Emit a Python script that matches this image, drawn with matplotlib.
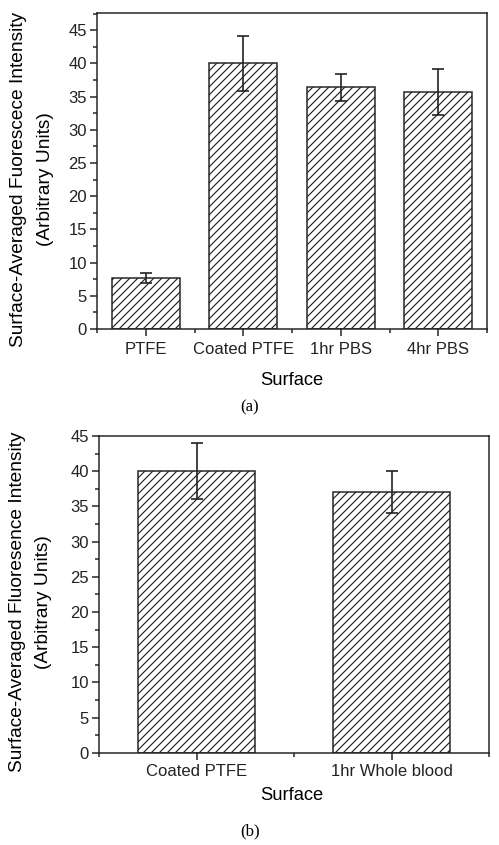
import numpy as np
import matplotlib
matplotlib.use("Agg")
import matplotlib.pyplot as plt
from matplotlib.ticker import MultipleLocator

# panel (a) data
surfaces_a = ['PTFE', 'Coated PTFE', '1hr PBS', '4hr PBS']
intensity_a = [7.7, 40.0, 36.4, 35.7]
error_a = [0.75, 4.1, 2.0, 3.5]

# panel (b) data
surfaces_b = ['Coated PTFE', '1hr Whole blood']
intensity_b = [40.0, 37.0]
error_b = [4.0, 3.0]

plt.rcParams['font.family'] = ['Liberation Sans', 'DejaVu Sans']
plt.rcParams['hatch.linewidth'] = 0.7
plt.rcParams['hatch.color'] = '#333333'

W, H, DPI = 499, 845, 120
fig = plt.figure(figsize=(W / DPI, H / DPI), dpi=DPI)


def px(x0, y0, x1, y1):
    # pixel box -> figure fraction
    return [x0 / W, 1 - y1 / H, (x1 - x0) / W, (y1 - y0) / H]


def draw_panel(ax, labels, vals, errs, width, ymax, xpad):
    x = np.arange(1, len(labels) + 1)
    ax.bar(x, vals, width=width, color='white', edgecolor='#222222',
           linewidth=0.9, hatch='/////', zorder=2)
    ax.errorbar(x, vals, yerr=errs, fmt='none', ecolor='#222222',
                elinewidth=1.0, capsize=3.5, capthick=1.0, zorder=3)
    ax.set_xlim(0.5, len(labels) + 0.5)
    ax.set_ylim(0, ymax)
    ax.set_xticks(x)
    ax.set_xticklabels(labels, fontsize=10)
    ax.xaxis.set_minor_locator(MultipleLocator(0.5))
    ax.yaxis.set_major_locator(MultipleLocator(5))
    ax.yaxis.set_minor_locator(MultipleLocator(2.5))
    ax.tick_params(which='both', direction='out', top=False, right=False,
                   labelsize=10, width=0.9, colors='#222222')
    ax.tick_params(which='major', length=4, pad=2)
    ax.tick_params(axis='x', which='major', pad=xpad)
    ax.tick_params(which='minor', length=2.2)
    for s in ax.spines.values():
        s.set_linewidth(0.9)
        s.set_color('#222222')


ax1 = fig.add_axes(px(97, 13, 487, 329))
draw_panel(ax1, surfaces_a, intensity_a, error_a, 0.7, 47.6, 3.8)

ax2 = fig.add_axes(px(99, 436, 489, 752.7))
draw_panel(ax2, surfaces_b, intensity_b, error_b, 0.6, 45, 3.0)

# axis titles
fig.text(19 / W, 1 - 179 / H, 'Surface-Averaged Fuorescece Intensity',
         rotation=90, ha='center', va='center', fontsize=11.5)
fig.text(45 / W, 1 - 179 / H, '(Arbitrary Units)',
         rotation=90, ha='center', va='center', fontsize=11.5)
fig.text(292 / W, 1 - 380 / H, 'Surface', ha='center', va='center', fontsize=11)
fig.text(250 / W, 1 - 407 / H, '(a)', ha='center', va='center', fontsize=10,
         family='Liberation Serif')

fig.text(18 / W, 1 - 602 / H, 'Surface-Averaged Fluoresence Intensity',
         rotation=90, ha='center', va='center', fontsize=11.5)
fig.text(43 / W, 1 - 602 / H, '(Arbitrary Units)',
         rotation=90, ha='center', va='center', fontsize=11.5)
fig.text(292 / W, 1 - 795 / H, 'Surface', ha='center', va='center', fontsize=11)
fig.text(250 / W, 1 - 831 / H, '(b)', ha='center', va='center', fontsize=10,
         family='Liberation Serif')

fig.savefig('out.png', dpi=DPI, facecolor='white')
